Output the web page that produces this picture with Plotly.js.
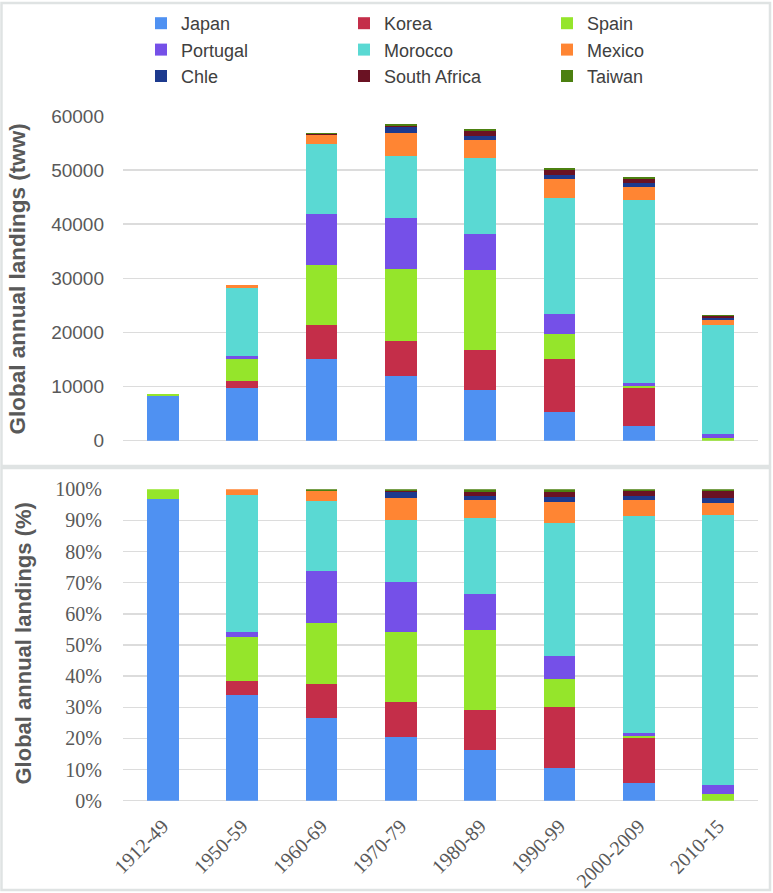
<!DOCTYPE html>
<html>
<head>
<meta charset="utf-8">
<script src="https://cdn.plot.ly/plotly-3.0.1.min.js"></script>
<style>html,body{margin:0;padding:0;background:#fff;}#chart{width:773px;height:893px;}</style>
</head>
<body>
<div id="chart"></div>
<script>
// ---- data (thousand tonnes wet weight) ----
const periods = ['1912-49','1950-59','1960-69','1970-79','1980-89','1990-99','2000-2009','2010-15'];
const japan       = [8350, 9800, 15150, 11900, 9360, 5240, 2770, 0];
const korea       = [0, 1230, 6160, 6590, 7450, 9920, 7020, 0];
const spain       = [280, 4130, 11210, 13180, 14780, 4500, 310, 500];
const portugal    = [0, 430, 9430, 9490, 6650, 3760, 490, 650];
const morocco     = [0, 12690, 12870, 11520, 13980, 21480, 33970, 20150];
const mexico      = [0, 490, 1720, 4130, 3330, 3390, 2400, 950];
const chile       = [0, 0, 0, 1110, 800, 800, 680, 380];
const southAfrica = [0, 0, 100, 300, 800, 870, 740, 470];
const taiwan      = [0, 0, 250, 300, 430, 370, 300, 150];

const seriesNames  = ['Japan','Korea','Spain','Portugal','Morocco','Mexico','Chle','South Africa','Taiwan'];
const seriesValues = [japan, korea, spain, portugal, morocco, mexico, chile, southAfrica, taiwan];
const seriesColors = ['#4F91F2','#C42E49','#95E52B','#7550E8','#5AD9D3','#FF8533','#1D3A8E','#6A1223','#4C8010'];

const totals = periods.map((_, i) => seriesValues.reduce((s, v) => s + v[i], 0));

const traces = [];
seriesNames.forEach((name, k) => {
  traces.push({
    type: 'bar', name: name, x: periods, y: seriesValues[k],
    xaxis: 'x', yaxis: 'y', marker: {color: seriesColors[k], line: {width: 0}},
    showlegend: true, hoverinfo: 'skip'
  });
});
seriesNames.forEach((name, k) => {
  traces.push({
    type: 'bar', name: name, x: periods,
    y: seriesValues[k].map((v, i) => v / totals[i] * 100),
    xaxis: 'x2', yaxis: 'y2', marker: {color: seriesColors[k], line: {width: 0}},
    showlegend: false, hoverinfo: 'skip'
  });
});

const W = 773, H = 893;
const px = x => x / W;
const py = y => 1 - y / H;
const frame = '#dfe3e3';
const grid = '#dcdcdc';
const sans = 'Liberation Sans, Arial, sans-serif';
const serif = 'Liberation Serif, Times New Roman, serif';

const layout = {
  width: W, height: H,
  margin: {l: 0, r: 0, t: 0, b: 0},
  paper_bgcolor: '#ffffff', plot_bgcolor: '#ffffff',
  barmode: 'stack', bargap: 0.6,
  showlegend: true,
  legend: {
    orientation: 'h', traceorder: 'normal',
    x: px(141), xanchor: 'left', y: py(5), yanchor: 'top',
    entrywidth: 158, entrywidthmode: 'pixels',
    font: {family: sans, size: 18, color: '#404040'},
    bgcolor: 'rgba(0,0,0,0)'
  },
  xaxis: {
    domain: [px(123), px(758)], anchor: 'y', type: 'category',
    range: [-0.5, 7.5], showticklabels: false, showgrid: false,
    showline: false, zeroline: false, ticks: ''
  },
  yaxis: {
    domain: [py(440.7), py(116)], anchor: 'x', range: [0, 60000], dtick: 10000,
    showgrid: true, gridcolor: grid, gridwidth: 1.5, zeroline: true, zerolinecolor: grid, zerolinewidth: 1.5,
    showline: false, ticks: '', tickformat: 'd', ticklabelstandoff: 18,
    tickfont: {family: sans, size: 19, color: '#595959'}
  },
  xaxis2: {
    domain: [px(123), px(758)], anchor: 'y2', type: 'category',
    range: [-0.5, 7.5], showgrid: false, showline: false, zeroline: false, ticks: '',
    tickangle: -45, ticklabelstandoff: 9,
    tickfont: {family: serif, size: 20, color: '#595959'}
  },
  yaxis2: {
    domain: [py(800.7), py(489.3)], anchor: 'x2', range: [0, 100], dtick: 10, ticksuffix: '%',
    showgrid: true, gridcolor: grid, gridwidth: 1.5, zeroline: true, zerolinecolor: grid, zerolinewidth: 1.5,
    showline: false, ticks: '', ticklabelstandoff: 20,
    tickfont: {family: serif, size: 20, color: '#595959'}
  },
  annotations: [
    {xref: 'paper', yref: 'paper', x: px(17), y: py(279.5), xanchor: 'center', yanchor: 'middle',
     text: '<b>Global annual landings (tww)</b>', textangle: -90, showarrow: false,
     font: {family: sans, size: 22.5, color: '#595959'}},
    {xref: 'paper', yref: 'paper', x: px(23), y: py(643.5), xanchor: 'center', yanchor: 'middle',
     text: '<b>Global annual landings (%)</b>', textangle: -90, showarrow: false,
     font: {family: sans, size: 22, color: '#595959'}}
  ],
  shapes: [
    {type: 'rect', xref: 'paper', yref: 'paper', x0: px(1.5), x1: px(770), y0: py(466), y1: py(3),
     line: {color: frame, width: 2.5}, fillcolor: 'rgba(0,0,0,0)', layer: 'below'},
    {type: 'rect', xref: 'paper', yref: 'paper', x0: px(1.5), x1: px(770), y0: py(890), y1: py(468),
     line: {color: frame, width: 2.5}, fillcolor: 'rgba(0,0,0,0)', layer: 'below'}
  ]
};

Plotly.newPlot('chart', traces, layout, {displayModeBar: false, staticPlot: true});
</script>
</body>
</html>
